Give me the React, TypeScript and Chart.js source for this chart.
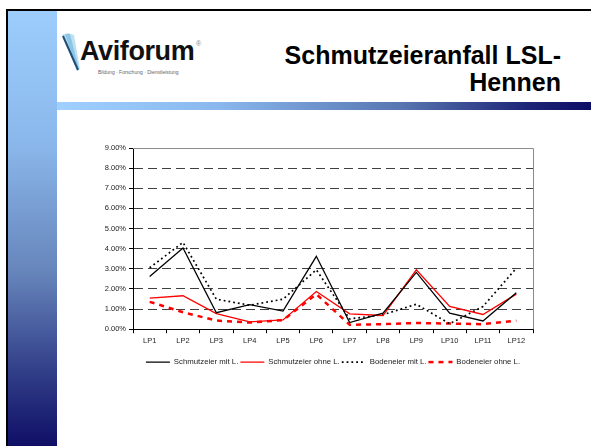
import React, { useEffect, useRef } from 'react';
import { Chart, registerables } from 'chart.js';

Chart.register(...registerables);

const categories = ['LP1', 'LP2', 'LP3', 'LP4', 'LP5', 'LP6', 'LP7', 'LP8', 'LP9', 'LP10', 'LP11', 'LP12'];
const schmutzMit = [2.62, 4.03, 0.82, 1.22, 0.9, 3.62, 0.33, 0.8, 2.82, 0.8, 0.41, 1.81];
const schmutzOhne = [1.54, 1.66, 0.77, 0.36, 0.46, 1.87, 0.76, 0.68, 2.95, 1.13, 0.73, 1.74];
const bodenMit = [3.05, 4.31, 1.49, 1.19, 1.49, 2.95, 0.51, 0.72, 1.24, 0.27, 1.13, 3.03];
const bodenOhne = [1.36, 0.84, 0.43, 0.33, 0.45, 1.74, 0.22, 0.25, 0.31, 0.28, 0.25, 0.42];
const seriesNames = ['Schmutzeier mit L.', 'Schmutzeier ohne L.', 'Bodeneier mit L.', 'Bodeneier ohne L.'];
const yTickValues = [0, 1, 2, 3, 4, 5, 6, 7, 8, 9];

const FONT = '"Liberation Sans", Arial, Helvetica, sans-serif';

const plotBorder = {
  id: 'plotBorder',
  beforeDatasetsDraw(chart: any) {
    const { ctx, chartArea } = chart;
    ctx.save();
    ctx.strokeStyle = '#8c8c8c';
    ctx.lineWidth = 1;
    ctx.beginPath();
    ctx.moveTo(chartArea.left, Math.round(chartArea.top) + 0.5);
    ctx.lineTo(Math.round(chartArea.right) + 0.5, Math.round(chartArea.top) + 0.5);
    ctx.lineTo(Math.round(chartArea.right) + 0.5, chartArea.bottom);
    ctx.stroke();
    ctx.restore();
  },
};

export default function App() {
  const ref = useRef<HTMLCanvasElement>(null);

  useEffect(() => {
    const chart = new Chart(ref.current as HTMLCanvasElement, {
      type: 'line',
      data: {
        labels: categories,
        datasets: [
          { label: seriesNames[0], data: schmutzMit, borderColor: '#000000', backgroundColor: '#000000', borderWidth: 1.3, pointRadius: 0, tension: 0 },
          { label: seriesNames[1], data: schmutzOhne, borderColor: '#ff0000', backgroundColor: '#ff0000', borderWidth: 1.3, pointRadius: 0, tension: 0 },
          { label: seriesNames[2], data: bodenMit, borderColor: '#000000', backgroundColor: '#000000', borderWidth: 1.7, borderDash: [1.8, 3], pointRadius: 0, tension: 0 },
          { label: seriesNames[3], data: bodenOhne, borderColor: '#ff0000', backgroundColor: '#ff0000', borderWidth: 2.5, borderDash: [5, 5], pointRadius: 0, tension: 0 },
        ],
      },
      options: {
        responsive: false,
        animation: false,
        layout: { padding: { left: 0, right: 41, top: 10, bottom: 2 } },
        scales: {
          x: {
            type: 'category',
            offset: true,
            grid: { drawOnChartArea: false, offset: true, tickLength: 4, tickColor: '#000000', lineWidth: 1 },
            border: { color: '#000000', width: 1 },
            ticks: { color: '#222222', font: { family: FONT, size: 7.5 }, padding: 3, maxRotation: 0, autoSkip: false },
            afterFit: (s: any) => { s.height = 27; },
          },
          y: {
            min: 0,
            max: 9,
            afterBuildTicks: (s: any) => { s.ticks = yTickValues.map((v) => ({ value: v })); },
            grid: {
              color: (c: any) => (c.tick && c.tick.value === 9 ? 'rgba(0,0,0,0)' : '#404040'),
              tickColor: '#000000',
              tickLength: 4,
              lineWidth: 1,
            },
            border: { color: '#000000', width: 1, dash: [9, 5] },
            ticks: {
              color: '#222222',
              font: { family: FONT, size: 7.5 },
              padding: 3,
              callback: (v: any) => Number(v).toFixed(2) + '%',
            },
            afterFit: (s: any) => { s.width = 43; },
          },
        },
        plugins: {
          legend: {
            position: 'bottom',
            fullSize: false,
            labels: {
              usePointStyle: true,
              pointStyle: 'line',
              pointStyleWidth: 24,
              boxHeight: 7.5,
              padding: 2,
              color: '#222222',
              font: { family: FONT, size: 7.8 },
              generateLabels: (ch: any) => {
                const items = Chart.defaults.plugins.legend.labels.generateLabels(ch);
                items.forEach((it: any, i: number) => {
                  const ds: any = ch.data.datasets[i];
                  it.lineDash = ds.borderDash || [];
                  it.lineWidth = ds.borderWidth;
                  it.strokeStyle = ds.borderColor;
                  it.fillStyle = ds.borderColor;
                  it.pointStyle = 'line';
                });
                return items;
              },
            },
          },
          tooltip: { enabled: false },
        },
      },
      plugins: [plotBorder],
    } as any);
    return () => chart.destroy();
  }, []);

  return (
    <div
      style={{
        position: 'fixed',
        left: 0,
        top: 0,
        width: 591,
        height: 446,
        background: '#ffffff',
        overflow: 'hidden',
        fontFamily: FONT,
      }}
    >
      <div style={{ position: 'absolute', left: 6, top: 9, width: 585, height: 2, background: '#000' }} />
      <div style={{ position: 'absolute', left: 6, top: 9, width: 2, height: 437, background: '#000' }} />
      <div
        style={{
          position: 'absolute',
          left: 8,
          top: 11,
          width: 49,
          height: 435,
          background: 'linear-gradient(to bottom, #9ccdfc 0%, #8bb8ec 30%, #6685bb 60%, #33418a 82%, #0f0f66 100%)',
        }}
      />
      <div
        style={{
          position: 'absolute',
          left: 57,
          top: 102,
          width: 534,
          height: 8,
          background: 'linear-gradient(to right, #9fd0ff 0%, #8ab8ee 30%, #5674b0 65%, #1e2577 88%, #0d0d66 100%)',
        }}
      />
      {/* logo */}
      <svg style={{ position: 'absolute', left: 60, top: 33 }} width={28} height={40} viewBox="0 0 28 40">
        <polygon points="2,2 8,0 14,2 20,36 17,38" fill="#bfe0f2" />
        <polygon points="5,1 10,1 19,36 17,37" fill="#8cc6e4" />
        <line x1="3" y1="3" x2="18" y2="37" stroke="#1d4f78" strokeWidth="2" />
      </svg>
      <div
        style={{
          position: 'absolute',
          left: 80,
          top: 38,
          fontSize: 27,
          lineHeight: '26px',
          fontWeight: 'bold',
          color: '#111',
          whiteSpace: 'nowrap',
          letterSpacing: '-0.4px',
        }}
      >
        Aviforum
      </div>
      <div style={{ position: 'absolute', left: 196, top: 40, fontSize: 7, lineHeight: '7px', color: '#888' }}>®</div>
      <div
        style={{
          position: 'absolute',
          left: 98,
          top: 69,
          fontSize: 5,
          lineHeight: '6px',
          color: '#666',
          whiteSpace: 'nowrap',
        }}
      >
        Bildung · Forschung · Dienstleistung
      </div>
      {/* title */}
      <div
        style={{
          position: 'absolute',
          right: 30,
          top: 42,
          textAlign: 'right',
          fontSize: 25,
          lineHeight: '27px',
          fontWeight: 'bold',
          color: '#000',
          whiteSpace: 'nowrap',
        }}
      >
        <div>Schmutzeieranfall LSL-</div>
        <div>Hennen</div>
      </div>
      <div style={{ position: 'absolute', left: 90, top: 138, width: 484, height: 240 }}>
        <canvas ref={ref} width={484} height={240} style={{ width: 484, height: 240, display: 'block' }} />
      </div>
    </div>
  );
}
